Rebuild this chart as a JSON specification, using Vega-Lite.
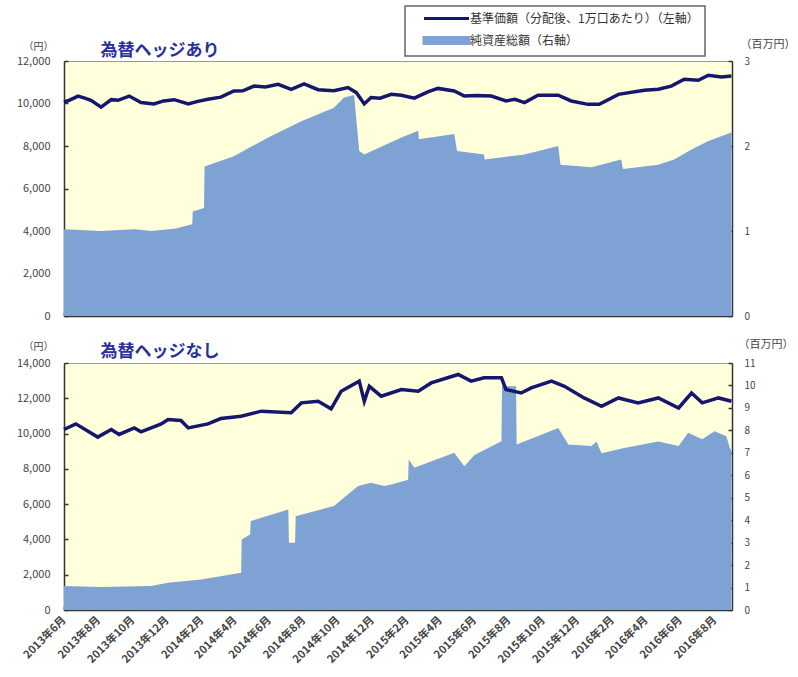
{
  "$schema": "https://vega.github.io/schema/vega-lite/v6.json",
  "padding": {"left": 15, "top": 5, "right": 0, "bottom": 0},
  "background": "#ffffff",
  "datasets": {
    "topNav": [
      {"d":"2013-06-01","v":10070},{"d":"2013-06-10","v":10150},{"d":"2013-06-26","v":10350},{"d":"2013-07-08","v":10250},{"d":"2013-07-19","v":10150},{"d":"2013-08-06","v":9830},
      {"d":"2013-08-24","v":10180},{"d":"2013-09-05","v":10150},{"d":"2013-09-25","v":10350},{"d":"2013-10-16","v":10050},{"d":"2013-11-08","v":9980},
      {"d":"2013-11-25","v":10120},{"d":"2013-12-14","v":10180},{"d":"2014-01-08","v":9980},{"d":"2014-01-25","v":10100},{"d":"2014-02-12","v":10200},{"d":"2014-03-07","v":10300},
      {"d":"2014-03-30","v":10590},{"d":"2014-04-15","v":10600},{"d":"2014-05-05","v":10820},{"d":"2014-05-25","v":10780},{"d":"2014-06-17","v":10900},{"d":"2014-07-10","v":10670},
      {"d":"2014-08-02","v":10920},{"d":"2014-08-27","v":10650},{"d":"2014-09-24","v":10600},{"d":"2014-10-19","v":10750},
      {"d":"2014-11-03","v":10510},{"d":"2014-11-17","v":9980},{"d":"2014-11-29","v":10280},{"d":"2014-12-15","v":10250},{"d":"2015-01-04","v":10430},
      {"d":"2015-01-22","v":10390},{"d":"2015-02-14","v":10250},{"d":"2015-03-10","v":10550},{"d":"2015-03-28","v":10710},{"d":"2015-04-26","v":10590},
      {"d":"2015-05-14","v":10350},{"d":"2015-06-05","v":10380},{"d":"2015-07-01","v":10350},{"d":"2015-07-27","v":10120},{"d":"2015-08-12","v":10200},{"d":"2015-08-29","v":10040},
      {"d":"2015-09-22","v":10390},{"d":"2015-10-28","v":10390},{"d":"2015-11-20","v":10120},{"d":"2015-12-20","v":9960},
      {"d":"2016-01-09","v":9960},{"d":"2016-02-12","v":10430},{"d":"2016-03-29","v":10620},{"d":"2016-04-23","v":10670},
      {"d":"2016-05-16","v":10820},{"d":"2016-06-08","v":11140},{"d":"2016-07-03","v":11090},{"d":"2016-07-21","v":11330},
      {"d":"2016-08-13","v":11250},{"d":"2016-08-31","v":11290}
    ],
    "topAsset": [
      {"d":"2013-06-01","v":1.02},{"d":"2013-08-06","v":1.00},{"d":"2013-10-04","v":1.02},{"d":"2013-11-03","v":1.00},
      {"d":"2013-12-17","v":1.03},{"d":"2014-01-15","v":1.08},{"d":"2014-01-16","v":1.23},{"d":"2014-02-05","v":1.27},
      {"d":"2014-02-06","v":1.76},{"d":"2014-03-30","v":1.88},{"d":"2014-05-30","v":2.10},{"d":"2014-07-28","v":2.29},
      {"d":"2014-09-24","v":2.45},{"d":"2014-10-12","v":2.57},{"d":"2014-10-30","v":2.60},{"d":"2014-11-08","v":1.94},
      {"d":"2014-11-17","v":1.90},{"d":"2015-01-22","v":2.10},{"d":"2015-02-21","v":2.18},{"d":"2015-02-22","v":2.08},
      {"d":"2015-04-26","v":2.14},{"d":"2015-05-01","v":1.94},{"d":"2015-06-18","v":1.90},{"d":"2015-06-19","v":1.84},
      {"d":"2015-08-29","v":1.90},{"d":"2015-10-28","v":2.00},{"d":"2015-11-01","v":1.78},{"d":"2015-12-26","v":1.75},
      {"d":"2016-02-17","v":1.84},{"d":"2016-02-20","v":1.73},{"d":"2016-04-23","v":1.78},{"d":"2016-05-21","v":1.84},
      {"d":"2016-06-21","v":1.96},{"d":"2016-07-21","v":2.06},{"d":"2016-08-31","v":2.16}
    ],
    "botNav": [
      {"d":"2013-06-01","v":10230},{"d":"2013-06-22","v":10550},{"d":"2013-07-31","v":9800},{"d":"2013-08-24","v":10230},
      {"d":"2013-09-07","v":9950},{"d":"2013-10-04","v":10320},{"d":"2013-10-16","v":10100},{"d":"2013-11-21","v":10550},
      {"d":"2013-12-03","v":10800},{"d":"2013-12-26","v":10740},{"d":"2014-01-08","v":10320},{"d":"2014-02-12","v":10550},
      {"d":"2014-03-07","v":10850},{"d":"2014-04-12","v":10980},{"d":"2014-05-18","v":11270},{"d":"2014-07-10","v":11180},
      {"d":"2014-07-28","v":11740},{"d":"2014-08-27","v":11830},{"d":"2014-09-19","v":11400},{"d":"2014-10-07","v":12400},
      {"d":"2014-11-08","v":12970},{"d":"2014-11-17","v":11830},{"d":"2014-11-26","v":12680},{"d":"2014-12-17","v":12120},
      {"d":"2015-01-22","v":12500},{"d":"2015-02-21","v":12400},{"d":"2015-03-16","v":12870},{"d":"2015-05-03","v":13350},
      {"d":"2015-05-26","v":12970},{"d":"2015-06-18","v":13160},{"d":"2015-07-19","v":13160},{"d":"2015-07-27","v":12500},
      {"d":"2015-08-23","v":12300},{"d":"2015-09-10","v":12590},{"d":"2015-10-16","v":12970},{"d":"2015-11-08","v":12680},
      {"d":"2015-12-13","v":12020},{"d":"2016-01-13","v":11550},{"d":"2016-02-12","v":12020},{"d":"2016-03-18","v":11740},
      {"d":"2016-04-23","v":12020},{"d":"2016-05-29","v":11450},{"d":"2016-06-21","v":12300},{"d":"2016-07-10","v":11740},
      {"d":"2016-08-08","v":12020},{"d":"2016-08-31","v":11830}
    ],
    "botAsset": [
      {"d":"2013-06-01","v":1.07},{"d":"2013-08-06","v":1.02},{"d":"2013-11-03","v":1.07},{"d":"2013-12-03","v":1.21},
      {"d":"2014-01-31","v":1.36},{"d":"2014-04-12","v":1.66},{"d":"2014-04-13","v":3.14},{"d":"2014-04-28","v":3.36},
      {"d":"2014-04-29","v":3.96},{"d":"2014-07-05","v":4.48},{"d":"2014-07-06","v":3.00},{"d":"2014-07-17","v":3.00},
      {"d":"2014-07-18","v":4.18},{"d":"2014-09-24","v":4.63},{"d":"2014-11-06","v":5.52},{"d":"2014-11-29","v":5.67},
      {"d":"2014-12-22","v":5.52},{"d":"2015-01-04","v":5.59},{"d":"2015-02-03","v":5.80},{"d":"2015-02-04","v":6.70},
      {"d":"2015-02-14","v":6.33},{"d":"2015-04-26","v":7.00},{"d":"2015-05-14","v":6.40},{"d":"2015-06-01","v":6.90},
      {"d":"2015-07-19","v":7.52},{"d":"2015-07-20","v":9.96},{"d":"2015-08-14","v":9.96},{"d":"2015-08-15","v":7.37},
      {"d":"2015-10-28","v":8.11},{"d":"2015-11-15","v":7.37},{"d":"2015-12-26","v":7.30},{"d":"2016-01-04","v":7.50},
      {"d":"2016-01-13","v":6.98},{"d":"2016-02-20","v":7.20},{"d":"2016-04-23","v":7.50},{"d":"2016-05-29","v":7.30},
      {"d":"2016-06-15","v":7.89},{"d":"2016-07-10","v":7.60},{"d":"2016-08-01","v":7.96},{"d":"2016-08-22","v":7.74},
      {"d":"2016-08-29","v":7.15},{"d":"2016-08-31","v":7.15}
    ]
  },
  "bounds": "flush",
  "spacing": 47,
  "vconcat": [
    {
      "width": 668,
      "height": 255,
      "title": {"text": "為替ヘッジあり", "anchor": "start", "dx": 84, "dy": 24, "offset": 2, "fontSize": 17, "fontWeight": "bold", "color": "#2b2f9e"},
      "encoding": {
        "x": {"field": "d", "type": "temporal",
          "scale": {"type": "utc", "domain": [{"year": 2013, "month": 6, "date": 1, "utc": true}, {"year": 2016, "month": 9, "date": 1, "utc": true}]},
          "axis": {"title": null, "labels": false, "tickSize": -4, "tickWidth": 1.5, "domainWidth": 1.5,
            "values": [
              {"year":2013,"month":6,"date":1,"utc":true},{"year":2013,"month":8,"date":1,"utc":true},{"year":2013,"month":10,"date":1,"utc":true},{"year":2013,"month":12,"date":1,"utc":true},
              {"year":2014,"month":2,"date":1,"utc":true},{"year":2014,"month":4,"date":1,"utc":true},{"year":2014,"month":6,"date":1,"utc":true},{"year":2014,"month":8,"date":1,"utc":true},{"year":2014,"month":10,"date":1,"utc":true},{"year":2014,"month":12,"date":1,"utc":true},
              {"year":2015,"month":2,"date":1,"utc":true},{"year":2015,"month":4,"date":1,"utc":true},{"year":2015,"month":6,"date":1,"utc":true},{"year":2015,"month":8,"date":1,"utc":true},{"year":2015,"month":10,"date":1,"utc":true},{"year":2015,"month":12,"date":1,"utc":true},
              {"year":2016,"month":2,"date":1,"utc":true},{"year":2016,"month":4,"date":1,"utc":true},{"year":2016,"month":6,"date":1,"utc":true},{"year":2016,"month":8,"date":1,"utc":true}
            ]}}
      },
      "layer": [
        {
          "data": {"name": "topAsset"},
          "mark": {"type": "area", "interpolate": "linear"},
          "encoding": {
            "y": {"field": "v", "type": "quantitative", "scale": {"domain": [0, 3], "nice": false},
              "axis": {"orient": "right", "values": [0, 1, 2, 3], "tickSize": -4, "tickWidth": 1.5, "labelPadding": 16, "domainWidth": 1.5,
                "title": "（百万円）", "titleAngle": 0, "titleAlign": "left", "titleBaseline": "middle", "titleX": 8, "titleY": -17, "titleFontSize": 11}},
            "color": {"datum": "純資産総額（右軸）", "type": "nominal",
              "scale": {"domain": ["基準価額（分配後、1万口あたり）（左軸）", "純資産総額（右軸）"], "range": ["#16166e", "#7fa2d4"]},
              "legend": {"orient": "none", "legendX": 341, "legendY": -55, "direction": "vertical", "title": null,
                "strokeColor": "#666666", "fillColor": "#ffffff", "padding": 6,
                "labelFontSize": 12, "labelColor": "#333333", "labelLimit": 400, "symbolSize": 100, "rowPadding": 6,
                "symbolOffset": 29, "labelOffset": 17,
                "encode": {
                  "legend": {"update": {"strokeWidth": {"value": 1.5}}},
                  "symbols": {"update": {
                  "shape": {"signal": "datum.value === '純資産総額（右軸）' ? 'M-4.5,-0.6H4.5V0.6H-4.5Z' : 'M-4.5,0H4.5'"},
                  "fill": {"signal": "datum.value === '純資産総額（右軸）' ? '#7fa2d4' : 'transparent'"},
                  "stroke": {"signal": "datum.value === '純資産総額（右軸）' ? 'transparent' : '#16166e'"},
                  "strokeWidth": {"value": 3},
                  "opacity": {"value": 1}
                }}}}}
          }
        },
        {
          "data": {"name": "topNav"},
          "mark": {"type": "line", "strokeWidth": 3.5, "interpolate": "linear"},
          "encoding": {
            "y": {"field": "v", "type": "quantitative", "scale": {"domain": [0, 12000], "nice": false},
              "axis": {"orient": "left", "values": [0, 2000, 4000, 6000, 8000, 10000, 12000], "format": ",d", "tickSize": -4, "tickWidth": 1.5, "labelPadding": 18, "domainWidth": 1.5, "labelFontSize": 11,
                "title": "（円）", "titleAngle": 0, "titleAlign": "center", "titleBaseline": "middle", "titleX": -26, "titleY": -15, "titleFontSize": 10}},
            "color": {"datum": "基準価額（分配後、1万口あたり）（左軸）", "type": "nominal"}
          }
        }
      ],
      "resolve": {"scale": {"y": "independent"}}
    },
    {
      "width": 668,
      "height": 247,
      "title": {"text": "為替ヘッジなし", "anchor": "start", "dx": 84, "dy": 25, "offset": 2, "fontSize": 17, "fontWeight": "bold", "color": "#2b2f9e"},
      "encoding": {
        "x": {"field": "d", "type": "temporal",
          "scale": {"type": "utc", "domain": [{"year": 2013, "month": 6, "date": 1, "utc": true}, {"year": 2016, "month": 9, "date": 1, "utc": true}]},
          "axis": {"title": null, "tickSize": -4, "tickWidth": 1.5, "domainWidth": 1.5, "format": "%Y年%-m月", "labelAngle": -45, "labelAlign": "right", "labelBaseline": "middle",
            "labelPadding": 12, "labelFontSize": 11, "labelFontWeight": "bold", "labelColor": "#444444", "labelOverlap": false, "labelSeparation": 0,
            "values": [
              {"year":2013,"month":6,"date":1,"utc":true},{"year":2013,"month":8,"date":1,"utc":true},{"year":2013,"month":10,"date":1,"utc":true},{"year":2013,"month":12,"date":1,"utc":true},
              {"year":2014,"month":2,"date":1,"utc":true},{"year":2014,"month":4,"date":1,"utc":true},{"year":2014,"month":6,"date":1,"utc":true},{"year":2014,"month":8,"date":1,"utc":true},{"year":2014,"month":10,"date":1,"utc":true},{"year":2014,"month":12,"date":1,"utc":true},
              {"year":2015,"month":2,"date":1,"utc":true},{"year":2015,"month":4,"date":1,"utc":true},{"year":2015,"month":6,"date":1,"utc":true},{"year":2015,"month":8,"date":1,"utc":true},{"year":2015,"month":10,"date":1,"utc":true},{"year":2015,"month":12,"date":1,"utc":true},
              {"year":2016,"month":2,"date":1,"utc":true},{"year":2016,"month":4,"date":1,"utc":true},{"year":2016,"month":6,"date":1,"utc":true},{"year":2016,"month":8,"date":1,"utc":true}
            ]}}
      },
      "layer": [
        {
          "data": {"name": "botAsset"},
          "mark": {"type": "area", "interpolate": "linear", "color": "#7fa2d4"},
          "encoding": {
            "y": {"field": "v", "type": "quantitative", "scale": {"domain": [0, 11], "nice": false},
              "axis": {"orient": "right", "values": [0,1,2,3,4,5,6,7,8,9,10,11], "tickSize": -4, "tickWidth": 1.5, "labelPadding": 16, "domainWidth": 1.5,
                "title": "（百万円）", "titleAngle": 0, "titleAlign": "left", "titleBaseline": "middle", "titleX": 6, "titleY": -19, "titleFontSize": 11}}
          }
        },
        {
          "data": {"name": "botNav"},
          "mark": {"type": "line", "strokeWidth": 3.5, "interpolate": "linear", "color": "#16166e"},
          "encoding": {
            "y": {"field": "v", "type": "quantitative", "scale": {"domain": [0, 14000], "nice": false},
              "axis": {"orient": "left", "values": [0, 2000, 4000, 6000, 8000, 10000, 12000, 14000], "format": ",d", "tickSize": -4, "tickWidth": 1.5, "labelPadding": 18, "domainWidth": 1.5, "labelFontSize": 11,
                "title": "（円）", "titleAngle": 0, "titleAlign": "center", "titleBaseline": "middle", "titleX": -26, "titleY": -17, "titleFontSize": 10}}
          }
        }
      ],
      "resolve": {"scale": {"y": "independent"}}
    }
  ],
  "config": {
    "font": "Noto Sans CJK JP",
    "view": {"fill": "#ffffdb", "stroke": "#999999", "strokeWidth": 1},
    "axis": {"grid": false, "zindex": 1, "domainColor": "#333333", "tickColor": "#333333", "labelColor": "#444444", "labelFontSize": 10, "titleFontWeight": "normal", "titleColor": "#444444"}
  }
}
